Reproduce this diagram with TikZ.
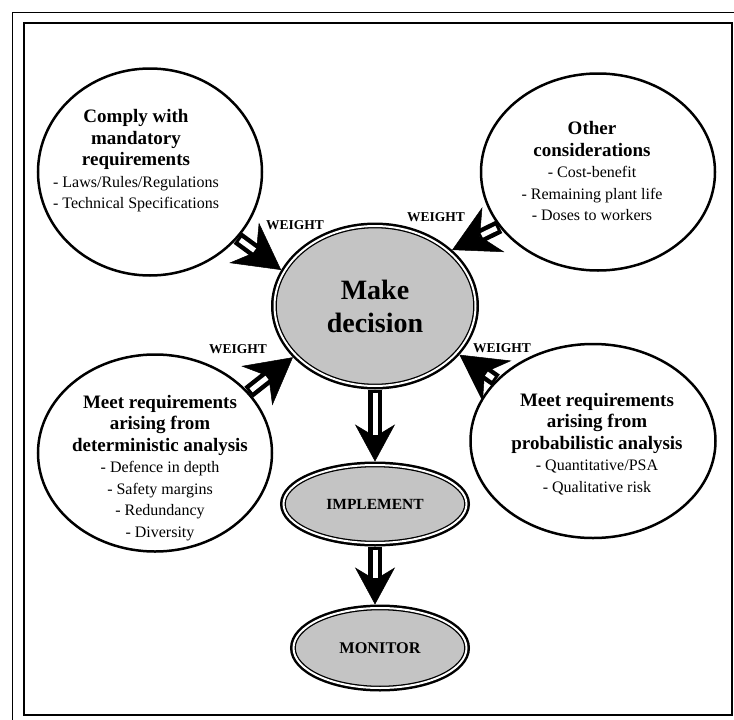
\documentclass[tikz,border=0pt]{standalone}
\usepackage{fontspec}
\setmainfont{Liberation Serif}
\usetikzlibrary{shapes,arrows.meta,positioning}

\newcommand{\bubblehead}[1]{{\fontsize{19}{21}\selectfont\bfseries #1}}

\begin{document}
\begin{tikzpicture}[x=1pt, y=-1pt,
  bubble/.style={ellipse, draw, line width=2.5pt, fill=white, inner sep=0pt},
  bubbletext/.style={align=center, font=\fontsize{16}{21.5}\selectfont, inner sep=0pt},
  mainbox/.style={ellipse, draw, line width=1.3pt, double, double distance=2pt, fill=black!23,
                  preaction={draw, line width=7pt}, inner sep=0pt, outer sep=3.5pt, align=center},
  weight/.style={font=\fontsize{13.5}{14}\selectfont\bfseries, inner sep=0pt},
  feed/.style={line width=14pt, -{Stealth[length=46pt, width=50pt, inset=15pt, line width=0.5pt]},
               postaction={draw=white, line width=5pt, -, shorten <=3pt, shorten >=33pt}},
  flow/.style={line width=14pt, -{Stealth[length=37pt, width=40pt, inset=12pt, line width=0.5pt]},
               postaction={draw=white, line width=5pt, -, shorten <=3pt, shorten >=27pt}}]

  \useasboundingbox (0,0) rectangle (734,720);
  \draw[line width=1pt] (12,720) -- (12,12) -- (734,12);
  \draw[line width=2pt] (24,23) rectangle (732,715);

  \node[bubble, minimum width=224pt, minimum height=207pt] (comply) at (150,172) {};
  \node[bubbletext] (complytext) at (136,161) {
    \bubblehead{Comply with}\\
    \bubblehead{mandatory}\\
    \bubblehead{requirements}\\
    - Laws/Rules/Regulations\\
    - Technical Specifications};

  \node[bubble, minimum width=234pt, minimum height=197pt] (other) at (598,172) {};
  \node[bubbletext] (othertext) at (592,171) {
    \bubblehead{Other}\\
    \bubblehead{considerations}\\
    - Cost-benefit\\
    - Remaining plant life\\
    - Doses to workers};

  \node[bubble, minimum width=234pt, minimum height=197pt] (determ) at (155,453) {};
  \node[bubbletext] (determtext) at (160,468) {
    \bubblehead{Meet requirements}\\
    \bubblehead{arising from}\\
    \bubblehead{deterministic analysis}\\
    - Defence in depth\\
    - Safety margins\\
    - Redundancy\\
    - Diversity};

  \node[bubble, minimum width=245pt, minimum height=194pt] (prob) at (593,441) {};
  \node[bubbletext] (probtext) at (597,444) {
    \bubblehead{Meet requirements}\\
    \bubblehead{arising from}\\
    \bubblehead{probabilistic analysis}\\
    - Quantitative/PSA\\
    - Qualitative risk};

  \node[mainbox, minimum width=201pt, minimum height=160pt,
        font=\fontsize{28}{33}\selectfont\bfseries] (decide) at (375,306) {Make\\decision};
  \node[mainbox, minimum width=183pt, minimum height=78pt,
        font=\fontsize{15.5}{18}\selectfont\bfseries] (implement) at (375,504) {IMPLEMENT};
  \node[mainbox, minimum width=173pt, minimum height=80pt,
        font=\fontsize{16.3}{18}\selectfont\bfseries] (monitor) at (380,648) {MONITOR};

  \node[weight] (wcomply) at (295,225) {WEIGHT};
  \node[weight] (wother) at (436,217) {WEIGHT};
  \node[weight] (wdeterm) at (238,349) {WEIGHT};
  \node[weight] (wprob) at (502,348) {WEIGHT};

  \draw[feed] (comply.-37) -- (decide.159);
  \draw[feed] (other.-151) -- (decide.36);
  \draw[feed] (determ.33) -- (decide.-148);
  \draw[feed] (prob.148) -- (decide.-30);

  \draw[flow] (decide.south) -- (implement.north);
  \draw[flow] (implement.south) -- (implement.south |- monitor.north);

\end{tikzpicture}
\end{document}
